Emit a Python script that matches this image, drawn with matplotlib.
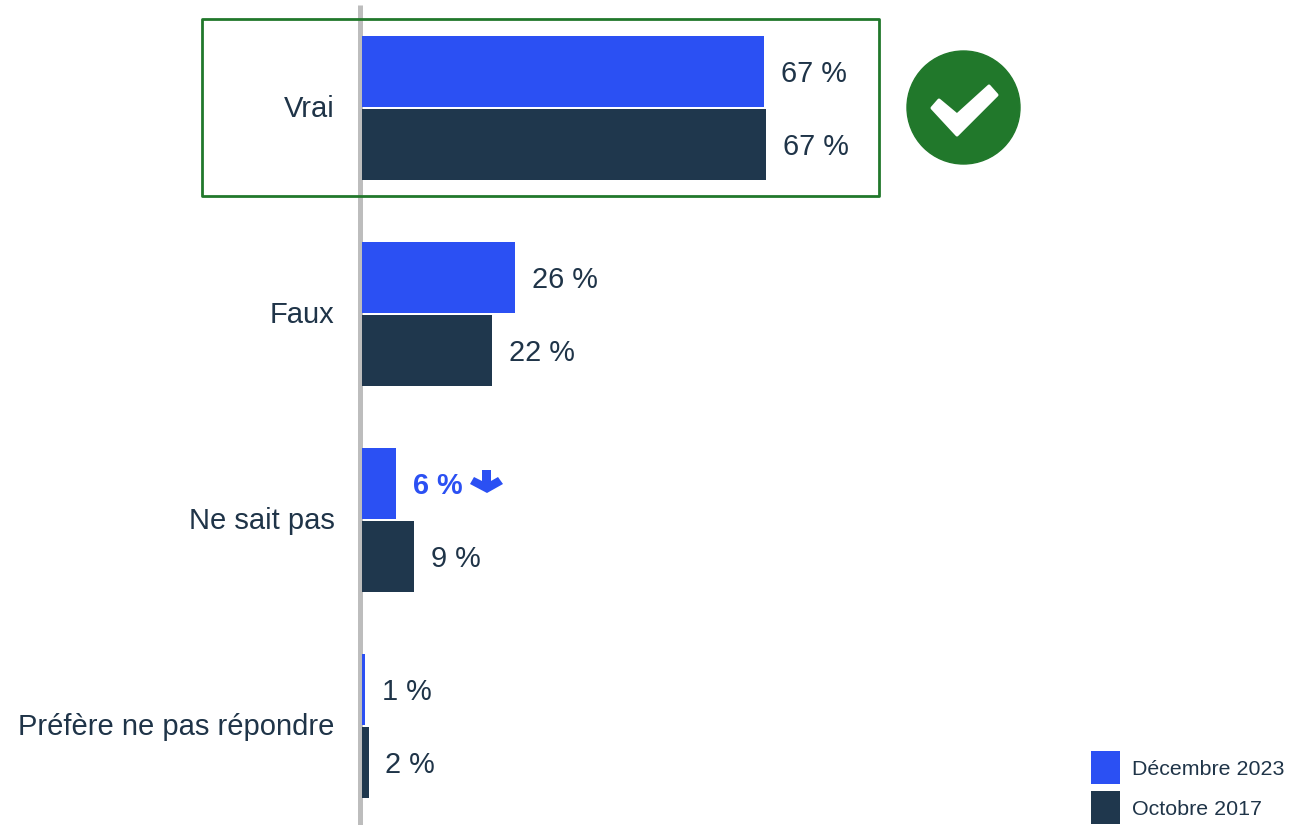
import matplotlib
matplotlib.use("Agg")
import matplotlib.pyplot as plt
from matplotlib.patches import Rectangle, Circle, Polygon

plt.rcParams['font.family'] = ['Liberation Sans', 'DejaVu Sans']

categories = ["Vrai", "Faux", "Ne sait pas", "Préfère ne pas répondre"]
dec_2023 = [66.7, 25.4, 5.7, 0.5]
oct_2017 = [67.0, 21.6, 8.6, 1.1]
dec_labels = ["67 %", "26 %", "6 %", "1 %"]
oct_labels = ["67 %", "22 %", "9 %", "2 %"]
series_names = ["Décembre 2023", "Octobre 2017"]

BLUE = "#2B50F3"
NAVY = "#1F374D"
GREEN = "#21782B"
TEXT = "#1F3448"
W, H = 1294, 825

fig = plt.figure(figsize=(W/100, H/100), dpi=100)
ov = fig.add_axes([0, 0, 1, 1])
ov.set_xlim(0, W); ov.set_ylim(H, 0); ov.axis('off')

x0 = 362; scale = 6.03
ax = fig.add_axes([0, 0, 1, 1], facecolor='none')
ax.set_xlim(-x0/scale, (W-x0)/scale)
ax.set_ylim(H, 0)
ax.axis('off')

centers = [108.5, 314.5, 520.5, 726.5]
for i, c in enumerate(centers):
    ax.barh(c-37, dec_2023[i], height=71, color=BLUE, left=0)
    ax.barh(c+36, oct_2017[i], height=71.5, color=NAVY, left=0)
    bold = i == 2
    ax.annotate(dec_labels[i], (dec_2023[i], c-36), xytext=(12, -0.8), textcoords='offset points',
                va='center', ha='left', fontsize=20.8, color=BLUE if bold else TEXT,
                fontweight='bold' if bold else 'normal')
    ax.annotate(oct_labels[i], (oct_2017[i], c+37), xytext=(12, -0.8), textcoords='offset points',
                va='center', ha='left', fontsize=20.8, color=TEXT)
    ov.text(334.5, c+0.5, categories[i], ha='right', va='center', fontsize=21, color=TEXT)

# axis line
ov.plot([360, 360], [5, 825], color="#BDBDBD", lw=3.6, solid_capstyle='butt', zorder=5)

# green highlight box
ov.add_patch(Rectangle((201.5, 18.5), 677, 177.5, fill=False, ec=GREEN, lw=2.0, joinstyle='round', zorder=6))

# check badge
ov.add_patch(Circle((963.5, 107.5), 56.5, color=GREEN, zorder=6))
ov.add_patch(Polygon([(932, 108), (939, 100), (957, 115), (989, 86), (997, 95), (957, 135)],
                     fc='white', ec='white', lw=2.2, joinstyle='round', zorder=7))

# down arrow
ov.add_patch(Polygon([(482, 470), (491, 470), (491, 481), (498, 477), (503, 484), (487, 493),
                      (470, 484), (474, 477), (482, 481)],
                     color=BLUE, lw=0, zorder=6))

# legend
for y, col, name in zip([751, 791], [BLUE, NAVY], series_names):
    ov.add_patch(Rectangle((1091, y), 29, 33, color=col, lw=0))
    ov.text(1132, y+18.5, name, ha='left', va='center', fontsize=15.4, color=TEXT)

fig.savefig("out.png", dpi=100)
